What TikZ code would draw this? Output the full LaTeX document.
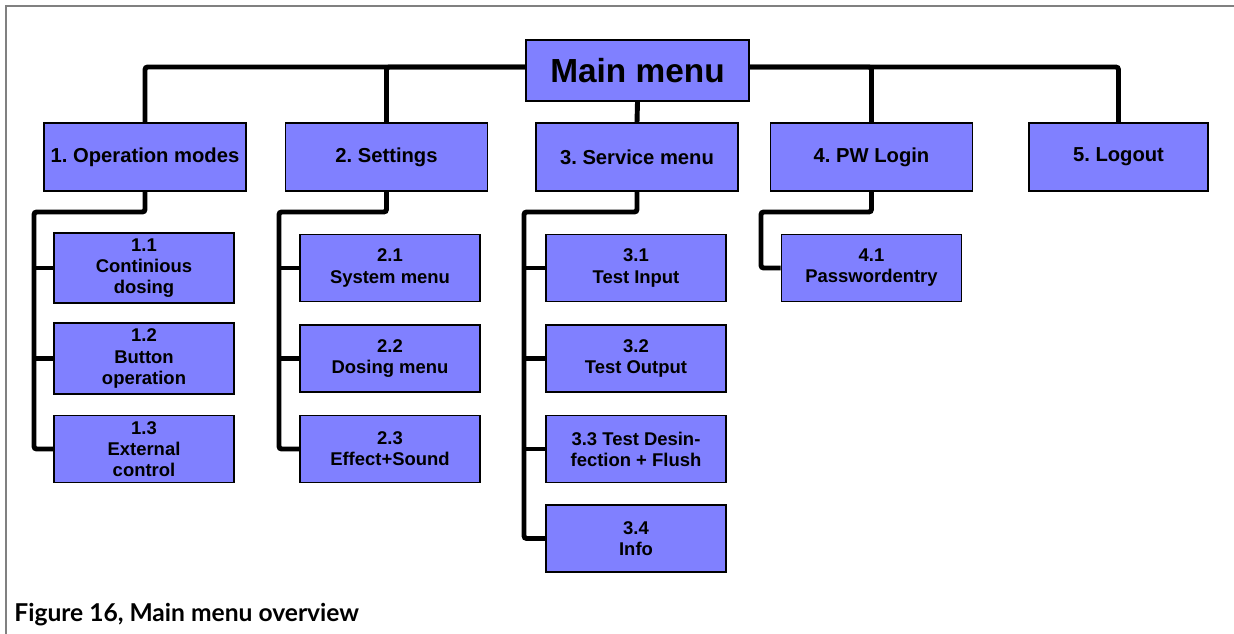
\documentclass[tikz,border=0pt]{standalone}
\usepackage{fontspec}
\setmainfont{Liberation Sans}
\newfontfamily\captionfont{Lato}
\definecolor{menublue}{HTML}{8080FF}
\frenchspacing

\begin{document}
\begin{tikzpicture}[x=0.02cm,y=-0.02cm,
    block_main/.style ={rectangle, draw=black, line width=1.1pt, fill=menublue,
      minimum width=4.46cm, minimum height=1.22cm,
      font=\fontsize{19}{22}\selectfont\bfseries},
    block_top/.style ={rectangle, draw=black, line width=1.1pt, fill=menublue,
      minimum width=4.04cm, minimum height=1.36cm,
      font=\fontsize{11.5}{13}\selectfont\bfseries},
    block_sub/.style ={rectangle, draw=black, line width=1.1pt, fill=menublue,
      minimum width=3.6cm, minimum height=1.34cm, align=center,
      font=\fontsize{10.5}{12}\selectfont\bfseries},
    line/.style ={draw, line width=2.8pt, rounded corners=1.5pt}]
    \useasboundingbox (0,0) rectangle (1234,634);
    % frame
    \draw[gray, line width=0.8pt] (6,634) -- (6,6) -- (1234,6);
    % main menu
    \node [block_main] (main) at (637.5,70.5) {Main menu};
    % row 1
    \node [block_top] (opmodes) at (145,157) {1. Operation modes};
    \node [block_top] (settings) at (386.5,157) {2. Settings};
    \node [block_top] (service) at (637,157) {3. Service menu};
    \node [block_top] (pwlogin) at (871.5,157) {4. PW Login};
    \node [block_top, minimum width=3.58cm] (logout) at (1118.5,157) {5. Logout};
    % column 1
    \node [block_sub] (op11) at (144,268) {1.1\\Continious\\dosing};
    \node [block_sub] (op12) at (144,358.5) {1.2\\Button\\operation};
    \node [block_sub] (op13) at (144,449) {1.3\\External\\control};
    % column 2
    \node [block_sub] (set21) at (390,268) {2.1\\System menu};
    \node [block_sub] (set22) at (390,358.5) {2.2\\Dosing menu};
    \node [block_sub] (set23) at (390,449) {2.3\\Effect+Sound};
    % column 3
    \node [block_sub] (serv31) at (636,268) {3.1\\Test Input};
    \node [block_sub] (serv32) at (636,358.5) {3.2\\Test Output};
    \node [block_sub] (serv33) at (636,449) {3.3 Test Desin-\\fection + Flush};
    \node [block_sub] (serv34) at (636,538.5) {3.4\\Info};
    % column 4
    \node [block_sub] (pw41) at (871.5,268) {4.1\\Passwordentry};
    % hidden bus corners
    \coordinate (opbus) at (34,212);
    \coordinate (setbus) at (279,212);
    \coordinate (servbus) at (524,212);
    \coordinate (pwbus) at (761,212);
    % connecting nodes with paths
    \begin{scope}[every path/.style=line]
     \path ([yshift=0.07cm]main.west) -| (opmodes.north);
     \path ([yshift=0.07cm]main.west) -| (settings.north);
     \path ([yshift=0.07cm]main.east) -| (pwlogin.north);
     \path ([yshift=0.07cm]main.east) -| (logout.north);
     \path (main.south) -- (service.north);
     \path (opmodes.south) |- (opbus) |- (op13.west);
     \path (opbus |- op11.west) -- (op11.west);
     \path (opbus |- op12.west) -- (op12.west);
     \path (settings.south) |- (setbus) |- (set23.west);
     \path (setbus |- set21.west) -- (set21.west);
     \path (setbus |- set22.west) -- (set22.west);
     \path (service.south) |- (servbus) |- (serv34.west);
     \path (servbus |- serv31.west) -- (serv31.west);
     \path (servbus |- serv32.west) -- (serv32.west);
     \path (servbus |- serv33.west) -- (serv33.west);
     \path (pwlogin.south) |- (pwbus) |- (pw41.west);
    \end{scope}
    % caption
    \node [anchor=base west, inner sep=0pt,
      font=\captionfont\fontsize{14}{16}\selectfont\bfseries] (caption) at (14,622)
      {Figure 16, Main menu overview};
\end{tikzpicture}
\end{document}
